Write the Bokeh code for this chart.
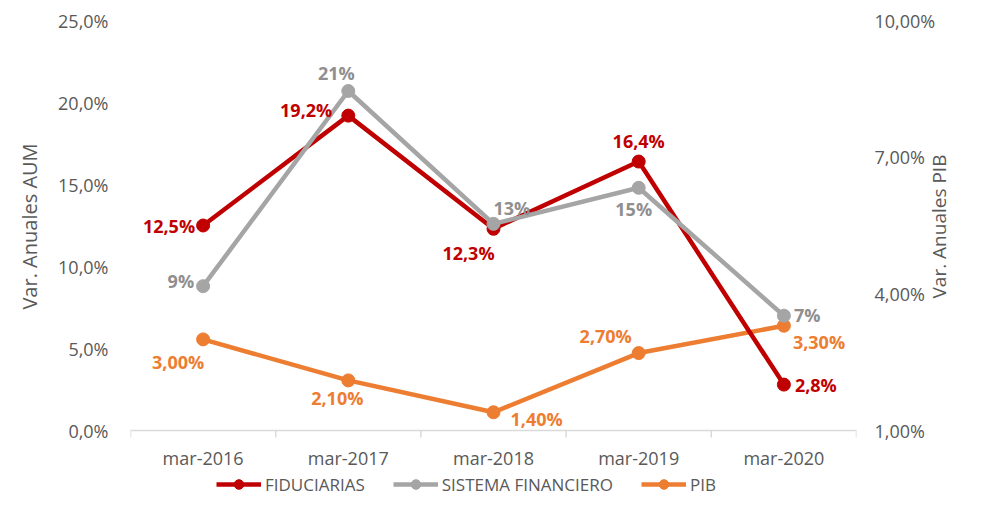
import math
from bokeh.plotting import figure
from bokeh.models import (Range1d, LinearAxis, FixedTicker, Legend, LegendItem, Span)
from bokeh.core.properties import value
from bokeh.embed import file_html
from bokeh.resources import INLINE

# ---------------- data ----------------
categories = ["mar-2016", "mar-2017", "mar-2018", "mar-2019", "mar-2020"]
fiduciarias = [12.5, 19.2, 12.3, 16.4, 2.8]
sistema = [8.8, 20.7, 12.6, 14.8, 7.0]
pib = [3.00, 2.10, 1.40, 2.70, 3.30]
left_ticks = [0, 5, 10, 15, 20, 25]
right_ticks = [1, 4, 7, 10]

# ---------------- style / layout ----------------
RED = "#C00000"
GRAY = "#A5A5A5"
ORANGE = "#ED7D31"
TXT = "#595959"
AXIS = "#D9D9D9"
FONT = "Open Sans"

W, H = 968, 496
TOP, LEFT, RIGHT = 20, 130, 109
PLOT_H = 410          # pixels between 0 and 25 on the left axis
BELOW = H - TOP - PLOT_H   # room under the value area (axis labels + legend)

L_MIN, L_MAX = 0, 25
R_MIN, R_MAX = 1, 10
upp_l = (L_MAX - L_MIN) / PLOT_H
upp_r = (R_MAX - R_MIN) / PLOT_H

xs = [i + 0.5 for i in range(len(categories))]
bounds = list(range(len(categories) + 1))

p = figure(width=W, height=H, output_backend="svg", toolbar_location=None,
           x_range=Range1d(0, len(categories)),
           y_range=Range1d(L_MIN - BELOW * upp_l, L_MAX),
           x_axis_location=None,
           min_border_left=LEFT, min_border_right=RIGHT, min_border_top=TOP,
           min_border_bottom=0)
p.extra_y_ranges = {"pib": Range1d(R_MIN - BELOW * upp_r, R_MAX)}
p.outline_line_color = None
p.grid.visible = False
p.background_fill_color = "white"
p.border_fill_color = "white"

# left value axis
ya = p.yaxis[0]
ya.ticker = FixedTicker(ticks=left_ticks)
ya.major_label_overrides = {t: f"{t:.1f}%".replace(".", ",") for t in left_ticks}
ya.axis_line_color = None
ya.major_tick_line_color = None
ya.minor_tick_line_color = None
ya.major_tick_out = 0
ya.major_label_standoff = 22
ya.major_label_text_font = FONT
ya.major_label_text_font_size = "18px"
ya.major_label_text_color = TXT

# right value axis
ra = LinearAxis(y_range_name="pib", ticker=FixedTicker(ticks=right_ticks))
ra.major_label_overrides = {t: f"{t:.2f}%".replace(".", ",") for t in right_ticks}
ra.axis_line_color = None
ra.major_tick_line_color = None
ra.minor_tick_line_color = None
ra.major_tick_out = 0
ra.major_label_standoff = 18
ra.major_label_text_font = FONT
ra.major_label_text_font_size = "18px"
ra.major_label_text_color = TXT
p.add_layout(ra, "right")

# axis titles, centred on the value area (drawn as a rotated single tick label)
TITLE_Y_L = (L_MIN + L_MAX) / 2 - 0.06     # middle of the value area
TITLE_Y_R = TITLE_Y_L - 72 * upp_l          # text starts at its tick on the right side


def title_axis(text, pos, orient, standoff, size):
    ax = LinearAxis(ticker=FixedTicker(ticks=[pos]))
    ax.major_label_overrides = {pos: text}
    ax.major_label_orientation = orient
    ax.axis_line_color = None
    ax.major_tick_line_color = None
    ax.minor_tick_line_color = None
    ax.major_tick_out = 0
    ax.major_tick_in = 0
    ax.major_label_standoff = standoff
    ax.major_label_text_font = FONT
    ax.major_label_text_font_size = size
    ax.major_label_text_color = TXT
    return ax


p.add_layout(title_axis("Var. Anuales AUM", TITLE_Y_L, "parallel", 12, "20px"), "left")
p.add_layout(title_axis("Var. Anuales PIB", TITLE_Y_R, math.pi / 2, 1, "19px"), "right")

# category axis drawn on the value 0 line
p.add_layout(Span(location=0, dimension="width", line_color=AXIS, line_width=1.5))
p.segment(x0=bounds, y0=[0] * len(bounds), x1=bounds, y1=[-7 * upp_l] * len(bounds),
          line_color=AXIS, line_width=1.5)
p.text(x=xs, y=[0] * len(xs), text=categories, y_offset=27,
       text_align="center", text_baseline="middle",
       text_font=value(FONT), text_font_size="18px", text_color=TXT)

LW = 4.5
MS = 13

l_pib = p.line(xs, pib, line_color=ORANGE, line_width=LW, y_range_name="pib")
s_pib = p.scatter(xs, pib, size=MS, fill_color=ORANGE, line_color=ORANGE, y_range_name="pib")
l_fid = p.line(xs, fiduciarias, line_color=RED, line_width=LW)
s_fid = p.scatter(xs, fiduciarias, size=MS, fill_color=RED, line_color=RED)
l_sis = p.line(xs, sistema, line_color=GRAY, line_width=LW)
s_sis = p.scatter(xs, sistema, size=MS, fill_color=GRAY, line_color=GRAY)

# data labels (offsets in screen px: dx, dy-down, align)
fid_off = [(-8, 0, "right"), (-16, -6, "right"), (-25, 24, "center"), (0, -21, "center"), (11, 0, "left")]
sis_off = [(-9, -5, "right"), (-12, -18, "center"), (0, -16, "left"), (-5, 21, "center"), (10, -1, "left")]
pib_off = [(-25, 23, "center"), (-11, 18, "center"), (17, 7, "left"), (-33, -17, "center"), (9, 16, "left")]


def add_labels(vals, texts, offs, color, rng=None):
    for x, v, t, (dx, dy, al) in zip(xs, vals, texts, offs):
        kw = {}
        if rng:
            kw["y_range_name"] = rng
        p.text(x=[x], y=[v], text=[t], x_offset=dx, y_offset=dy,
               text_align=al, text_baseline="middle",
               text_font=value(FONT), text_font_size="18px",
               text_font_style="bold", text_color=color, **kw)


add_labels(fiduciarias, [f"{v:.1f}%".replace(".", ",") for v in fiduciarias], fid_off, RED)
add_labels(sistema, [f"{v:.0f}%" for v in sistema], sis_off, "#8F8F8F")
add_labels(pib, [f"{v:.2f}%".replace(".", ",") for v in pib], pib_off, ORANGE, "pib")

legend = Legend(items=[
    LegendItem(label="FIDUCIARIAS", renderers=[l_fid, s_fid]),
    LegendItem(label="SISTEMA FINANCIERO", renderers=[l_sis, s_sis]),
    LegendItem(label="PIB", renderers=[l_pib, s_pib]),
], orientation="horizontal", location=(86, 0))
legend.border_line_color = None
legend.background_fill_alpha = 0
legend.label_text_font = FONT
legend.label_text_font_size = "17px"
legend.label_text_color = TXT
legend.glyph_width = 45
legend.glyph_height = 24
legend.label_height = 20
legend.label_standoff = 4
legend.spacing = 28
legend.padding = 0
legend.margin = 0
p.add_layout(legend, "center")

open("out.html", "w").write(file_html(p, INLINE))
